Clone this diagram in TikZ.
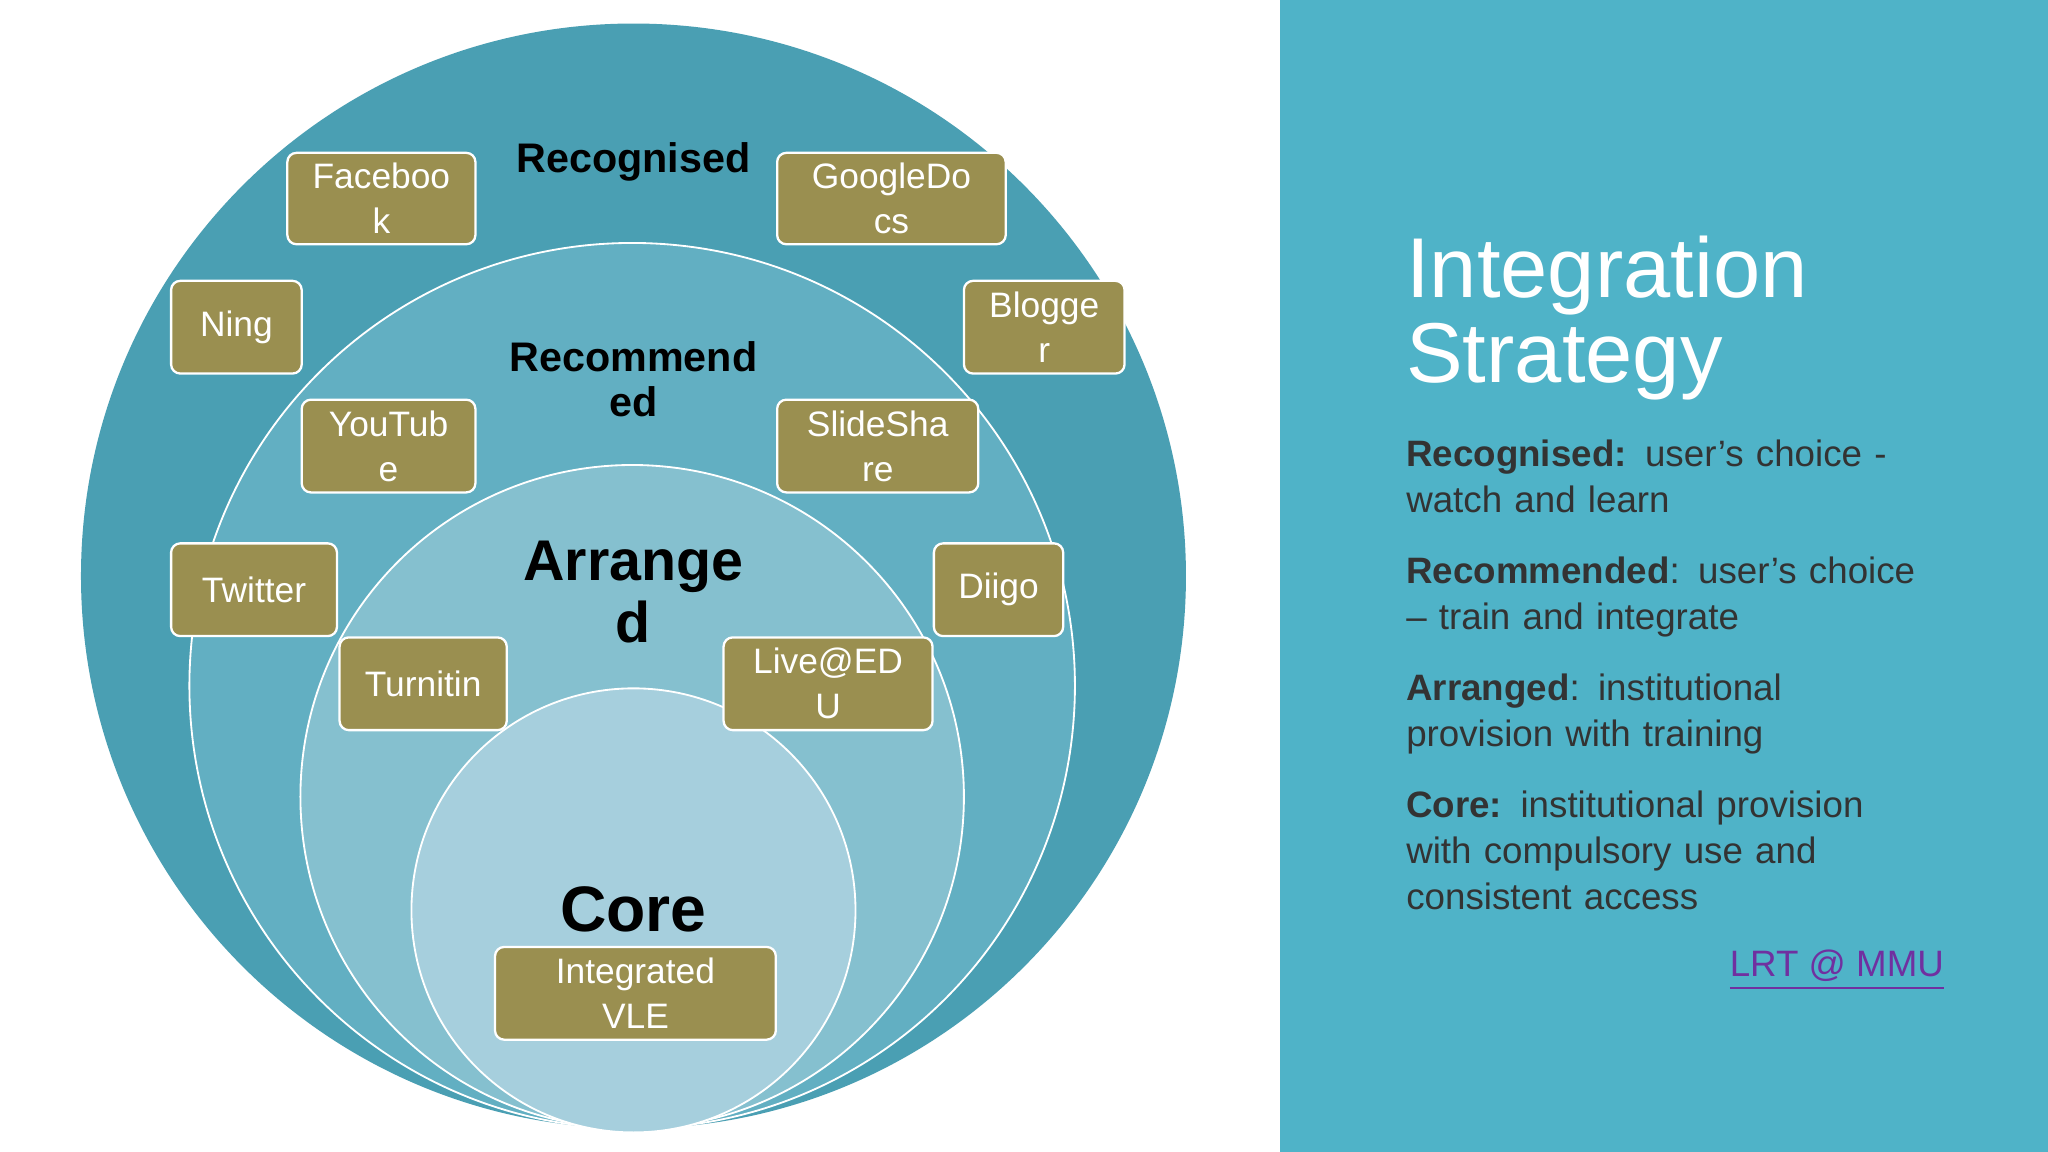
\documentclass[tikz,border=0pt]{standalone}
\usepackage{fontspec}
\setmainfont{Liberation Sans}
\definecolor{panel}{HTML}{4FB3C8}
\definecolor{c1}{HTML}{4A9FB3}
\definecolor{c2}{HTML}{62AFC2}
\definecolor{c3}{HTML}{85C0CF}
\definecolor{c4}{HTML}{A6CFDD}
\definecolor{olive}{HTML}{9A8F50}
\definecolor{linkc}{HTML}{7030A0}
\begin{document}
\begin{tikzpicture}[x=0.1mm,y=-0.1mm,
  box/.style={draw=white, line width=0.5pt, fill=olive, rounded corners=2pt, text=white, align=center, font=\fontsize{7.7}{9.8}\selectfont, inner sep=0pt},
  ring/.style={circle, draw=white, line width=0.4pt, inner sep=0pt},
  lab/.style={align=center, font=\bfseries\fontsize{9}{9.8}\selectfont}]
\useasboundingbox (0,0) rectangle (1568,882);
\fill[white] (0,0) rectangle (980,882);
\fill[panel] (980,0) rectangle (1568,882);
\node[ring, draw=none, fill=c1, minimum size=84.6mm] (r1) at (485,441) {};
\node[ring, fill=c2, minimum size=67.8mm] (r2) at (484,525) {};
\node[ring, fill=c3, minimum size=50.8mm] (r3) at (484,610) {};
\node[ring, fill=c4, minimum size=34mm] (r4) at (485,697) {};
\node[lab] (lrec) at (485,124) {Recognised};
\node[lab] (lrecm) at (485,290) {Recommend\\ed};
\node[lab, font=\bfseries\fontsize{12.5}{13.5}\selectfont] (larr) at (485,453) {Arrange\\d};
\node[lab, font=\bfseries\fontsize{14}{15}\selectfont] (lcore) at (485,696) {Core};
\newcommand{\mybox}[6]{\node[box, minimum width={(#4-#3)*0.1mm}, minimum height={(#6-#5)*0.1mm}] (#1) at ({(#3+#4)/2},{(#5+#6)/2}) {#2};}
\mybox{fb}{Faceboo\\k}{220}{364}{117}{187}
\mybox{gd}{GoogleDo\\cs}{595}{770}{117}{187}
\mybox{ning}{Ning}{131}{231}{215}{286}
\mybox{blog}{Blogge\\r}{738}{861}{215}{286}
\mybox{yt}{YouTub\\e}{231}{364}{306}{377}
\mybox{ss}{SlideSha\\re}{595}{749}{306}{377}
\mybox{tw}{Twitter}{131}{258}{416}{487}
\mybox{dg}{Diigo}{715}{814}{416}{487}
\mybox{tu}{Turnitin}{260}{388}{488}{559}
\mybox{le}{Live@ED\\U}{554}{714}{488}{559}
\mybox{vle}{Integrated\\VLE}{379}{594}{725}{796}
\node[anchor=north west, align=left, text=white, font=\fontsize{18.5}{18.5}\selectfont, inner sep=0pt] (title) at (1076,180) {Integration\\Strategy};
\node[anchor=north west, align=left, text=black!80, font=\fontsize{8}{10}\selectfont, inner sep=0pt, text width=420] (body) at (1076,336) {%
\textbf{Recognised:} user’s choice -\\watch and learn\par\vspace{5.5pt}
\textbf{Recommended}: user’s choice\\– train and integrate\par\vspace{5.5pt}
\textbf{Arranged}: institutional\\provision with training\par\vspace{5.5pt}
\textbf{Core:} institutional provision\\with compulsory use and\\consistent access};
\node[anchor=east, text=linkc, font=\fontsize{8}{10}\selectfont, inner sep=0pt] (link) at (1489,743) {\underline{LRT @ MMU}};
\end{tikzpicture}
\end{document}
